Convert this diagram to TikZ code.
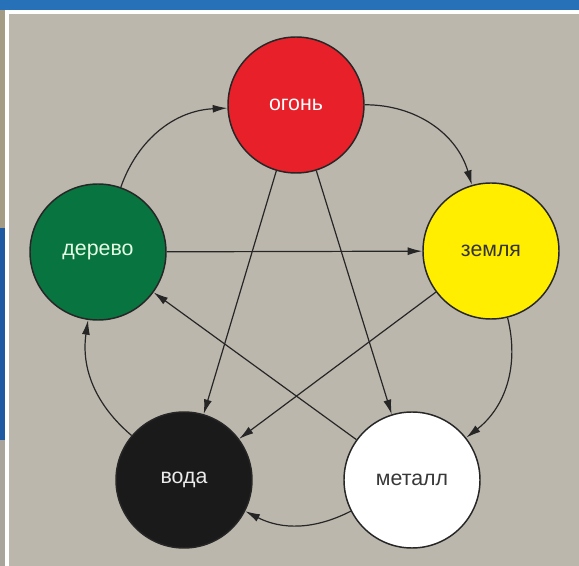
\documentclass[tikz,border=0pt]{standalone}
\usepackage{fontspec}
\setmainfont{Liberation Sans}
\usepackage{xcolor}
\usetikzlibrary{shapes,arrows.meta}

\definecolor{bgstone}{HTML}{BCB7AD}
\definecolor{barblue}{HTML}{2671B8}
\definecolor{sideblue}{HTML}{1E5AA2}
\definecolor{sidetan}{HTML}{A59C86}
\definecolor{fire}{HTML}{E8202A}
\definecolor{earth}{HTML}{FFEE00}
\definecolor{wood}{HTML}{08743F}
\definecolor{water}{HTML}{1B1A1A}

\tikzset{
  element/.style={circle,draw=black!85,line width=1.1pt,minimum size=102pt,inner sep=0pt,
    font=\fontsize{16}{19}\selectfont},
  flow/.style={line width=0.9pt,draw=black!85,-{Latex[length=11pt,width=6pt]}},
  cycleflow/.style={flow,bend right=#1}
}

\begin{document}
\begin{tikzpicture}[x=0.75pt,y=0.75pt,yscale=-1,xscale=1]
        % frame and background
        \useasboundingbox (0,0) rectangle (579,566);
        \fill[white] (0,0) rectangle (579,566);
        \fill[bgstone] (9,14) rectangle (579,566);
        \fill[barblue] (0,0) rectangle (579,10);
        \fill[sidetan] (0,10) rectangle (5,228);
        \fill[sideblue] (0,228) rectangle (5,440);
        \fill[bgstone!90!black] (0,440) rectangle (5,566);

        % the five elements
        \node[element,fill=fire,text=white]          (ogon)   at (296,105) {огонь};
        \node[element,fill=earth,text=black!80]      (zemlya) at (491,251) {земля};
        \node[element,fill=white,text=black!78]      (metall) at (412,480) {металл};
        \node[element,fill=water,text=white!92!black] (voda)  at (184,480) {вода};
        \node[element,fill=wood,text=green!10!white] (derevo) at (98,252)  {дерево};

        % outer cycle
        \draw[cycleflow=34] (derevo) to (ogon);
        \draw[cycleflow=37] (ogon) to (zemlya);
        \draw[cycleflow=33] (zemlya) to (metall);
        \draw[cycleflow=27] (metall) to (voda);
        \draw[cycleflow=29] (voda) to (derevo);

        % inner star
        \draw[flow] (ogon) -- (voda);
        \draw[flow] (ogon) -- (metall);
        \draw[flow] (derevo) -- (zemlya);
        \draw[flow] (zemlya) -- (voda);
        \draw[flow] (metall) -- (derevo);
    \end{tikzpicture}
\end{document}
